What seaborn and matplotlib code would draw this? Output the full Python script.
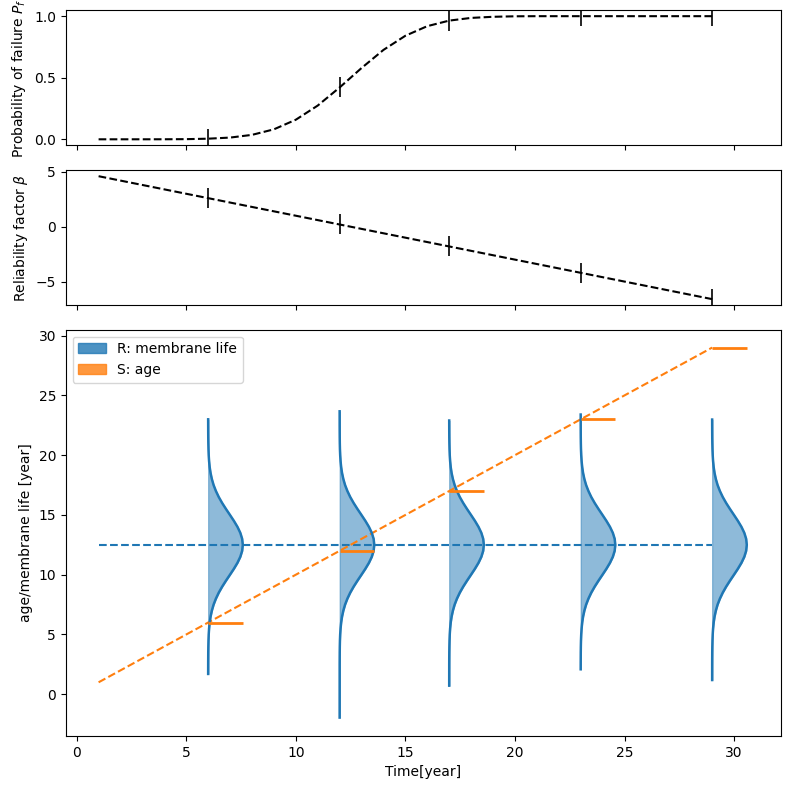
import numpy as np
import pandas as pd
import seaborn as sns
import matplotlib
matplotlib.use("Agg")
import matplotlib.pyplot as plt
from matplotlib.patches import Patch

# probability of failure, one value per year 1..29
years = list(range(1, 30))
pf = [0.0, 0.0, 0.0001, 0.0003, 0.0013, 0.005, 0.014, 0.036, 0.081, 0.159,
      0.274, 0.421, 0.579, 0.726, 0.841, 0.919, 0.964, 0.986, 0.995, 0.999,
      1.0, 1.0, 1.0, 1.0, 1.0, 1.0, 1.0, 1.0, 1.0]

# reliability factor (straight line)
beta_t = [1, 6, 12, 17, 23, 29]
beta = [4.6, 2.6, 0.2, -1.8, -4.2, -6.6]

# inspection times and the values marked there
times = [6, 12, 17, 23, 29]
pf_marks = [0.005, 0.421, 0.964, 1.0, 1.0]
beta_marks = [2.6, 0.2, -1.8, -4.2, -6.6]

# bottom panel
age_t = [1, 29]
age = [1, 29]
life_mean = 12.5
life_t = [1, 29]
ages = [6, 12, 17, 23, 29]
life_lo = [1.7, -1.95, 0.72, 2.09, 1.19]
life_hi = [23.0, 23.67, 22.9, 23.4, 22.98]
# violin half-width (relative), offsets -10..10 years around the mean, step 0.5
prof_w = [0.0006, 0.0013, 0.0025, 0.0048, 0.0088, 0.0156, 0.0267, 0.0439, 0.0698, 0.107,
          0.157, 0.224, 0.306, 0.404, 0.514, 0.630, 0.744, 0.847, 0.929, 0.982,
          1.0,
          0.982, 0.929, 0.847, 0.744, 0.630, 0.514, 0.404, 0.306, 0.224, 0.157,
          0.107, 0.0698, 0.0439, 0.0267, 0.0156, 0.0088, 0.0048, 0.0025, 0.0013, 0.0006]
prof_off = np.arange(-10, 10.25, 0.5)
violin_width = 1.58

c0, c1 = "#1f77b4", "#ff7f0e"

fig = plt.figure(figsize=(7.9, 7.89), dpi=100)
gs = fig.add_gridspec(3, 1, height_ratios=[1, 1, 3], hspace=0.108,
                      left=0.0832, right=0.988, top=0.9873, bottom=0.0672)
ax1 = fig.add_subplot(gs[0])
ax2 = fig.add_subplot(gs[1], sharex=ax1)
ax3 = fig.add_subplot(gs[2], sharex=ax1)

# top: probability of failure
df_pf = pd.DataFrame({"t": years, "pf": pf})
sns.lineplot(data=df_pf, x="t", y="pf", ax=ax1, color="k", linestyle="--", lw=1.5)
ax1.plot(times, pf_marks, ls="none", marker="|", ms=15, mew=1.2, color="k")
ax1.set_ylim(-0.05, 1.05)
ax1.set_ylabel("Probability of failure $P_f$")
ax1.set_xlabel("")
ax1.tick_params(labelbottom=False)

# middle: reliability factor
df_b = pd.DataFrame({"t": beta_t, "beta": beta})
sns.lineplot(data=df_b, x="t", y="beta", ax=ax2, color="k", linestyle="--", lw=1.5)
ax2.plot(times, beta_marks, ls="none", marker="|", ms=15, mew=1.2, color="k")
ax2.set_ylim(-7.16, 5.18)
ax2.set_ylabel(r"Reliability factor $\beta$")
ax2.set_xlabel("")
ax2.tick_params(labelbottom=False)

# bottom: membrane life distributions vs age
sns.lineplot(x=life_t, y=[life_mean] * len(life_t), ax=ax3, color=c0, linestyle="--", lw=1.5)
sns.lineplot(x=age_t, y=age, ax=ax3, color=c1, linestyle="--", lw=1.5)

for t, lo, hi in zip(times, life_lo, life_hi):
    y = life_mean + prof_off
    w = np.array(prof_w) * violin_width
    keep = (y > lo) & (y < hi)
    y = np.concatenate([[lo], y[keep], [hi]])
    w = np.concatenate([[0.0], w[keep], [0.0]])
    ax3.fill_betweenx(y, t, t + w, color=c0, alpha=0.5, lw=0.8)
    sns.lineplot(x=t + w, y=y, orient="y", ax=ax3, color=c0, lw=1.8)

ax3.hlines(ages, times, np.array(times) + violin_width, color=c1, lw=2)

ax3.set_xlim(-0.5, 32.12)
ax3.set_ylim(-3.49, 30.5)
ax3.set_xlabel("Time[year]")
ax3.set_ylabel("age/membrane life [year]")
ax3.legend(handles=[Patch(color=c0, alpha=0.8, label="R: membrane life"),
                    Patch(color=c1, alpha=0.8, label="S: age")], loc="upper left")

fig.savefig("out.png", dpi=100)
